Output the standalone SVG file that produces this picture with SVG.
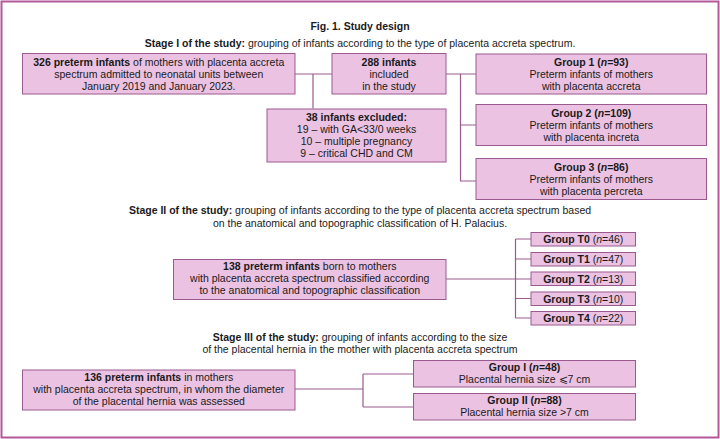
<svg xmlns="http://www.w3.org/2000/svg" width="720" height="439" viewBox="0 0 720 439">
<style>
text{font-family:"Liberation Sans",Arial,sans-serif;font-size:10.5px;fill:#1a1a1a;text-anchor:middle}
.b{font-weight:bold}
.box{fill:#ebc2e2;stroke:#9b5a8f;stroke-width:1}
.ln{fill:none;stroke:#9b5a8f;stroke-width:1.2}
</style>
<rect x="1.5" y="1.5" width="717" height="436" fill="#ffffff" stroke="#b4589a" stroke-width="2"/>
<text class="b" x="360" y="30">Fig. 1. Study design</text>
<text x="360" y="47"><tspan class="b">Stage I of the study:</tspan> grouping of infants according to the type of placenta accreta spectrum.</text>
<text x="360" y="214"><tspan class="b">Stage II of the study:</tspan> grouping of infants according to the type of placenta accreta spectrum based</text>
<text x="360" y="226.5">on the anatomical and topographic classification of H. Palacius.</text>
<text x="360" y="340.5"><tspan class="b">Stage III of the study:</tspan> grouping of infants according to the size</text>
<text x="360" y="353">of the placental hernia in the mother with placenta accreta spectrum</text>
<g id="connectors">
<path class="ln" d="M295,74 H332 M313,74 V108.5"/>
<path class="ln" d="M446,74 H476 M460.5,74 V181 H476 M460.5,125 H476"/>
<path class="ln" d="M446,279 H531 M515.5,239 V318 M515.5,239 H531 M515.5,259 H531 M515.5,298.5 H531 M515.5,318 H531"/>
<path class="ln" d="M295,389 H363 M363,374 V407 M363,374 H413 M363,407 H413"/>
</g>
<g id="n326"><rect class="box" x="22.5" y="53.5" width="272.5" height="40.5"/>
<text x="158.75" y="65.5"><tspan class="b">326 preterm infants</tspan> of mothers with placenta accreta</text>
<text x="158.75" y="77.5">spectrum admitted to neonatal units between</text>
<text x="158.75" y="89.5">January 2019 and January 2023.</text></g>
<g id="n288"><rect class="box" x="332" y="53.5" width="114" height="40.5"/>
<text class="b" x="389" y="65.5">288 infants</text>
<text x="389" y="77.5">included</text>
<text x="389" y="89.5">in the study</text></g>
<g id="n38"><rect class="box" x="267" y="109" width="179" height="53"/>
<text class="b" x="356.5" y="120.5">38 infants excluded:</text>
<text x="356.5" y="132.5">19 – with GA&lt;33/0 weeks</text>
<text x="356.5" y="144.5">10 – multiple pregnancy</text>
<text x="356.5" y="156.5">9 – critical CHD and CM</text></g>
<g id="g1"><rect class="box" x="476" y="54" width="230.5" height="40"/>
<text x="591.25" y="65.5"><tspan class="b">Group 1 (</tspan><tspan class="b" font-style="italic">n</tspan><tspan class="b">=93)</tspan></text>
<text x="591.25" y="77.5">Preterm infants of mothers</text>
<text x="591.25" y="89.5">with placenta accreta</text></g>
<g id="g2"><rect class="box" x="476" y="104.5" width="230.5" height="41"/>
<text x="591.25" y="116.5"><tspan class="b">Group 2 (</tspan><tspan class="b" font-style="italic">n</tspan><tspan class="b">=109)</tspan></text>
<text x="591.25" y="128.5">Preterm infants of mothers</text>
<text x="591.25" y="140.5">with placenta increta</text></g>
<g id="g3"><rect class="box" x="476" y="158.5" width="230.5" height="41"/>
<text x="591.25" y="170.5"><tspan class="b">Group 3 (</tspan><tspan class="b" font-style="italic">n</tspan><tspan class="b">=86)</tspan></text>
<text x="591.25" y="182.5">Preterm infants of mothers</text>
<text x="591.25" y="194.5">with placenta percreta</text></g>
<g id="n138"><rect class="box" x="173.5" y="259.5" width="272.5" height="40"/>
<text x="309.75" y="270"><tspan class="b">138 preterm infants</tspan> born to mothers</text>
<text x="309.75" y="282">with placenta accreta spectrum classified according</text>
<text x="309.75" y="294">to the anatomical and topographic classification</text></g>
<g id="t0"><rect class="box" x="531" y="232.5" width="104.5" height="13.5"/>
<text x="583.25" y="243"><tspan class="b">Group T0</tspan> (<tspan font-style="italic">n</tspan>=46)</text></g>
<g id="t1"><rect class="box" x="531" y="252.5" width="104.5" height="13.5"/>
<text x="583.25" y="263"><tspan class="b">Group T1</tspan> (<tspan font-style="italic">n</tspan>=47)</text></g>
<g id="t2"><rect class="box" x="531" y="272" width="104.5" height="13.5"/>
<text x="583.25" y="282.5"><tspan class="b">Group T2</tspan> (<tspan font-style="italic">n</tspan>=13)</text></g>
<g id="t3"><rect class="box" x="531" y="292" width="104.5" height="13.5"/>
<text x="583.25" y="302.5"><tspan class="b">Group T3</tspan> (<tspan font-style="italic">n</tspan>=10)</text></g>
<g id="t4"><rect class="box" x="531" y="311.5" width="104.5" height="13.5"/>
<text x="583.25" y="322"><tspan class="b">Group T4</tspan> (<tspan font-style="italic">n</tspan>=22)</text></g>
<g id="n136"><rect class="box" x="22.5" y="370" width="272.5" height="40"/>
<text x="158.75" y="381"><tspan class="b">136 preterm infants</tspan> in mothers</text>
<text x="158.75" y="393">with placenta accreta spectrum, in whom the diameter</text>
<text x="158.75" y="405">of the placental hernia was assessed</text></g>
<g id="gI"><rect class="box" x="413.5" y="360.5" width="222" height="26.5"/>
<text x="524.5" y="371"><tspan class="b">Group I (</tspan><tspan class="b" font-style="italic">n</tspan><tspan class="b">=48)</tspan></text>
<text x="524.5" y="383">Placental hernia size ⩽7 cm</text></g>
<g id="gII"><rect class="box" x="413.5" y="393.5" width="222" height="26.5"/>
<text x="524.5" y="404"><tspan class="b">Group II (</tspan><tspan class="b" font-style="italic">n</tspan><tspan class="b">=88)</tspan></text>
<text x="524.5" y="416">Placental hernia size &gt;7 cm</text></g>
</svg>
